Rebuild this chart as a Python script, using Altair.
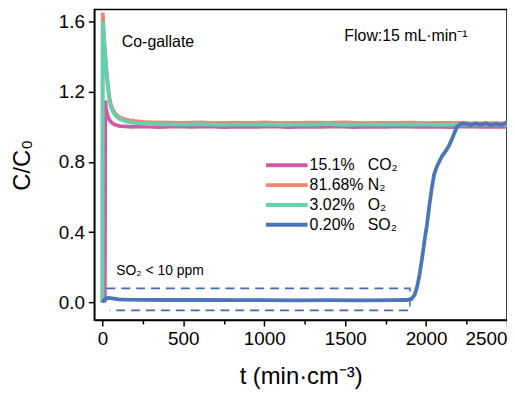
import altair as alt
import pandas as pd

FONT = "Liberation Sans, Arial, sans-serif"

# ---- data ----
gas_names = ["15.1%\u00a0\u00a0\u00a0CO₂", "81.68%\u00a0N₂", "3.02%\u00a0\u00a0\u00a0O₂", "0.20%\u00a0\u00a0\u00a0SO₂"]
gas_colors = ["#CC5BA8", "#F0846E", "#60D2AF", "#4A76B8"]

co2_t = [15, 18, 22, 28, 35, 43, 52, 62, 75, 90, 110, 140, 180, 250, 350, 450, 550, 650, 750, 850,
         950, 1050, 1150, 1250, 1350, 1450, 1550, 1650, 1750, 1850, 1950, 2050, 2150, 2250, 2350, 2450, 2500]
co2_v = [0.0, 1.15, 1.11, 1.08, 1.06, 1.04, 1.03, 1.02, 1.013, 1.008, 1.004, 1.002, 1.0, 1.003, 0.998,
         1.002, 1.0, 1.003, 0.999, 1.001, 1.0, 1.002, 0.999, 1.001, 1.0, 1.002, 0.999, 1.001, 1.0, 1.002,
         1.0, 1.001, 0.999, 1.002, 1.0, 1.001, 1.0]

o2n2_t = [0, 2, 6, 12, 18, 25, 33, 43, 53, 63, 80, 100, 125, 150, 200, 250, 300, 400, 500, 600, 700,
          800, 900, 1000, 1100, 1200, 1300, 1400, 1500, 1600, 1700, 1800, 1900, 2000, 2100, 2200, 2300,
          2400, 2500]
o2_v = [0.0, 1.60, 1.54, 1.46, 1.39, 1.31, 1.23, 1.15, 1.11, 1.09, 1.065, 1.048, 1.037, 1.03, 1.022,
        1.018, 1.016, 1.014, 1.012, 1.015, 1.011, 1.013, 1.012, 1.014, 1.011, 1.013, 1.012, 1.015, 1.011,
        1.013, 1.012, 1.014, 1.012, 1.013, 1.011, 1.014, 1.012, 1.013, 1.012]
n2_v = [0.0, 1.65, 1.58, 1.49, 1.41, 1.33, 1.25, 1.17, 1.125, 1.10, 1.075, 1.058, 1.047, 1.04, 1.033,
        1.028, 1.026, 1.024, 1.023, 1.025, 1.021, 1.024, 1.022, 1.025, 1.021, 1.023, 1.024, 1.022, 1.025,
        1.021, 1.023, 1.022, 1.024, 1.021, 1.023, 1.022, 1.020, 1.021, 1.019]

so2_t = [0, 8, 20, 35, 50, 70, 100, 150, 250, 400, 600, 800, 1000, 1200, 1400, 1600, 1800, 1880, 1910,
         1930, 1945, 1960, 1975, 1990, 2005, 2020, 2035, 2050, 2065, 2080, 2100, 2120, 2140, 2160, 2175,
         2190, 2210, 2230, 2250, 2270, 2290, 2310, 2330, 2350, 2370, 2390, 2410, 2430, 2450, 2470, 2490, 2500]
so2_v = [0.0, 0.01, 0.022, 0.026, 0.025, 0.022, 0.018, 0.016, 0.015, 0.014, 0.014, 0.013, 0.013, 0.012,
         0.013, 0.012, 0.013, 0.014, 0.02, 0.045, 0.09, 0.16, 0.25, 0.35, 0.44, 0.55, 0.65, 0.73, 0.77,
         0.80, 0.835, 0.86, 0.89, 0.93, 0.965, 1.0, 1.015, 1.02, 1.018, 1.01, 1.015, 1.02, 1.012, 1.015,
         1.02, 1.013, 1.012, 1.018, 1.014, 1.012, 1.022, 1.015]

box_t = [25, 1900, 1900, 45]
box_v = [0.08, 0.08, -0.045, -0.045]

notes = ["Co-gallate", "Flow:15 mL·min⁻¹", "SO₂ < 10 ppm"]
notes_t = [120, 1495, 86]
notes_v = [1.485, 1.515, 0.18]
notes_size = [16, 16, 14]

x_ticks = [0, 250, 500, 750, 1000, 1250, 1500, 1750, 2000, 2250, 2500]
y_ticks = [0.0, 0.2, 0.4, 0.6, 0.8, 1.0, 1.2, 1.4, 1.6]

# ---- tables ----
df_co2 = pd.DataFrame({"t": co2_t, "v": co2_v, "gas": gas_names[0]})
df_n2 = pd.DataFrame({"t": o2n2_t, "v": n2_v, "gas": gas_names[1]})
df_o2 = pd.DataFrame({"t": o2n2_t, "v": o2_v, "gas": gas_names[2]})
df_so2 = pd.DataFrame({"t": so2_t, "v": so2_v, "gas": gas_names[3]})
df_box = pd.DataFrame({"t": box_t, "v": box_v, "i": list(range(len(box_t)))})
df_notes = pd.DataFrame({"label": notes, "t": notes_t, "v": notes_v, "size": notes_size})

xscale = alt.Scale(domain=[-50, 2500], nice=False, zero=False)
yscale = alt.Scale(domain=[-0.1, 1.668], nice=False, zero=False)

xaxis = alt.Axis(
    values=x_ticks, title="t (min·cm⁻³)", format="d",
    labelExpr="datum.value % 500 === 0 ? datum.label : ''",
    tickSize={"condition": {"test": "datum.value % 500 === 0", "value": 6}, "value": 4},
    labelPadding=4, titlePadding=16,
)
yaxis = alt.Axis(
    values=y_ticks, title="C/C₀", format=".1f",
    labelExpr="round(datum.value * 10) % 4 === 0 ? datum.label : ''",
    tickSize={"condition": {"test": "round(datum.value * 10) % 4 === 0", "value": 6}, "value": 4},
    labelPadding=4, titlePadding=24,
)

color = alt.Color(
    "gas:N",
    scale=alt.Scale(domain=gas_names, range=gas_colors),
    sort=gas_names,
    legend=alt.Legend(
        title=None, orient="none", legendX=186, legendY=149,
        symbolType="M-4,0H4", symbolSize=110, symbolStrokeWidth=4,
        labelFontSize=16, labelFont=FONT, labelColor="black", labelOffset=15,
        rowPadding=4, padding=0,
    ),
)


def gas_layer(df):
    return alt.Chart(df).mark_line(strokeWidth=3.8, clip=True).encode(
        x=alt.X("t:Q", scale=xscale, axis=xaxis),
        y=alt.Y("v:Q", scale=yscale, axis=yaxis),
        color=color,
        order="t:Q",
    )


box = alt.Chart(df_box).mark_line(color="#3D6BAE", strokeWidth=1.6, strokeDash=[9, 6]).encode(
    x=alt.X("t:Q", scale=xscale),
    y=alt.Y("v:Q", scale=yscale),
    order="i:Q",
)

text = alt.Chart(df_notes).mark_text(align="left", baseline="middle", font=FONT, color="black").encode(
    x=alt.X("t:Q", scale=xscale),
    y=alt.Y("v:Q", scale=yscale),
    text="label:N",
    size=alt.Size("size:Q", scale=None, legend=None),
)

chart = alt.layer(
    box, gas_layer(df_co2), gas_layer(df_n2), gas_layer(df_o2), gas_layer(df_so2), text
).properties(
    width=416, height=313,
    autosize=alt.AutoSizeParams(type="none"),
    padding={"left": 87, "top": 0, "right": 0, "bottom": 69},
).configure_view(
    stroke="black", strokeWidth=1.5
).configure_axis(
    labelFont=FONT, titleFont=FONT, labelFontSize=19, titleFontSize=24,
    titleFontWeight="normal", labelColor="black", titleColor="black",
    domainColor="black", domainWidth=1.5, tickColor="black", tickWidth=1.5, grid=False,
)

chart.save("out.html", embed_options={"renderer": "svg", "actions": False})
